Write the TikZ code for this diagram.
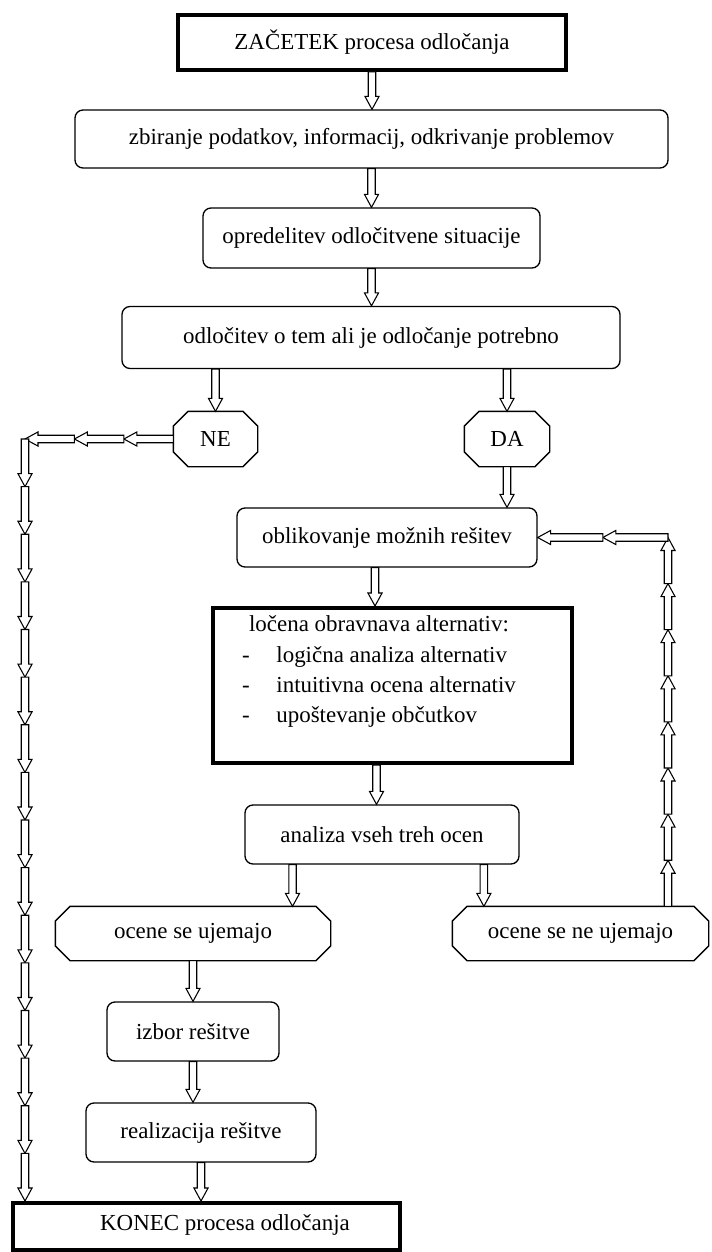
\documentclass[tikz,border=0pt]{standalone}
\usepackage{fontspec}
\setmainfont{Liberation Serif}
\usetikzlibrary{positioning, calc}

% hollow block arrow from #1 to #2
\newcommand{\hollowarrow}[2]{%
  \path #1 coordinate (ha-a) #2 coordinate (ha-b);
  \path ($(ha-b)!9.75pt!(ha-a)$) coordinate (ha-c);
  \draw[harrow] ($(ha-a)!2.8pt!90:(ha-b)$) -- ($(ha-c)!2.8pt!90:(ha-b)$) -- ($(ha-c)!5.3pt!90:(ha-b)$)
      -- (ha-b) -- ($(ha-c)!5.3pt!-90:(ha-b)$) -- ($(ha-c)!2.8pt!-90:(ha-b)$) -- ($(ha-a)!2.8pt!-90:(ha-b)$) -- cycle;
}
% octagon round a choice node
\newcommand{\octagon}[1]{%
  \draw[line width=1pt] ($(#1.north west)+(11pt,0pt)$) -- ($(#1.north east)+(-11pt,0pt)$) -- ($(#1.north east)+(0pt,-11pt)$)
      -- ($(#1.south east)+(0pt,11pt)$) -- ($(#1.south east)+(-11pt,0pt)$) -- ($(#1.south west)+(11pt,0pt)$)
      -- ($(#1.south west)+(0pt,11pt)$) -- ($(#1.north west)+(0pt,-11pt)$) -- cycle;
}

\begin{document}
\begin{tikzpicture}[x=0.75pt, y=-0.75pt, font=\fontsize{17.2}{22.5}\selectfont,
  flowbox/.style={draw, line width=1pt, rounded corners=6pt, inner sep=0pt},
  endbox/.style={draw, line width=3pt, inner sep=0pt},
  choice/.style={inner sep=0pt, outer sep=0.5pt},
  harrow/.style={draw, fill=white, line width=0.8pt, line join=miter}]
\useasboundingbox (0,0) rectangle (712,1252);

\draw (372,42.5)   node[endbox, minimum width=291pt, minimum height=41pt](zacetek){ZAČETEK procesa odločanja};
\draw (371.5,139)  node[flowbox, minimum width=444.75pt, minimum height=43.5pt](zbiranje){zbiranje podatkov, informacij, odkrivanje problemov};
\draw (371.5,238)  node[flowbox, minimum width=252.75pt, minimum height=45pt](opredelitev){opredelitev odločitvene situacije};
\draw (371,337.5)  node[flowbox, minimum width=373.5pt, minimum height=46.5pt](odlocitev){odločitev o tem ali je odločanje potrebno};
\draw (215.5,439)  node[choice, minimum width=62.25pt, minimum height=40.5pt](ne){NE}
      (507,439)    node[choice, minimum width=63pt, minimum height=40.5pt](da){DA};
\octagon{ne}
\octagon{da}
\draw (387,537.5)  node[flowbox, minimum width=225pt, minimum height=44.25pt](oblikovanje){oblikovanje možnih rešitev};
\draw (392.5,685.5) node[endbox, minimum width=269.25pt, minimum height=116.25pt](locena){};
\draw (379,671)    node(locenatxt){\begin{tabular}{@{}l@{\hspace{20pt}}l@{}}
    \multicolumn{2}{@{}c@{}}{ločena obravnava alternativ:}\\[1pt]
    - & logična analiza alternativ\\
    - & intuitivna ocena alternativ\\
    - & upoštevanje občutkov\end{tabular}};
\draw (382,834.5)  node[flowbox, minimum width=205.5pt, minimum height=44.25pt](analiza){analiza vseh treh ocen};
\draw (193,933.5)  node[choice, minimum width=205.5pt, minimum height=39.75pt](ujemajo){ocene se ujemajo}
      (580.5,933.5) node[choice, minimum width=191.25pt, minimum height=39.75pt](neujemajo){ocene se ne ujemajo};
\octagon{ujemajo}
\octagon{neujemajo}
\draw (193,1031.5) node[flowbox, minimum width=129pt, minimum height=44.25pt](izbor){izbor rešitve};
\draw (201,1132.5) node[flowbox, minimum width=172.5pt, minimum height=44.25pt](realizacija){realizacija rešitve};
\draw (206,1226.5) node[endbox, minimum width=290.25pt, minimum height=35.25pt](konec){};
\draw (225,1225)   node(konectxt){KONEC procesa odločanja};

% main flow
\hollowarrow{(zacetek.south)}{(zacetek.south |- zbiranje.north)}
\hollowarrow{(zbiranje.south)}{(zbiranje.south |- opredelitev.north)}
\hollowarrow{(opredelitev.south)}{(opredelitev.south |- odlocitev.north)}
\hollowarrow{(ne |- odlocitev.south)}{(ne.north)}
\hollowarrow{(da |- odlocitev.south)}{(da.north)}
\hollowarrow{(da.south)}{(da.south |- oblikovanje.north)}
\coordinate (ob) at ($(oblikovanje.south)+(-12,0)$);
\coordinate (lo) at ($(locena.south)+(-16,0)$);
\hollowarrow{(ob)}{(ob |- locena.north)}
\hollowarrow{(lo)}{(lo |- analiza.north)}
\coordinate (al) at ($(analiza.south west)!0.175!(analiza.south east)$);
\coordinate (ar) at ($(analiza.south west)!0.87!(analiza.south east)$);
\hollowarrow{(al)}{(al |- ujemajo.north)}
\hollowarrow{(ar)}{(ar |- neujemajo.north)}
\hollowarrow{(ujemajo.south)}{(izbor.north)}
\hollowarrow{(izbor.south)}{(izbor.south |- realizacija.north)}
\hollowarrow{(realizacija.south)}{(realizacija.south |- konec.north)}

% NE: straight to the end
\coordinate (lcorner) at (25,439);
\foreach \i in {0,...,3} \coordinate (nh\i) at ($(ne.west)!\i/3!(lcorner)$);
\foreach \i [evaluate=\i as \j using int(\i+1)] in {0,1,2} \hollowarrow{(nh\i)}{(nh\j)};
\foreach \i in {0,...,16} \coordinate (nv\i) at ($(lcorner)!\i/16!(lcorner |- konec.north)$);
\foreach \i [evaluate=\i as \j using int(\i+1)] in {0,...,15} \hollowarrow{(nv\i)}{(nv\j)};

% back to oblikovanje
\coordinate (rcorner) at (668,537.5);
\foreach \i in {0,...,8} \coordinate (rv\i) at ($(rcorner |- neujemajo.north)!\i/8!(rcorner)$);
\foreach \i [evaluate=\i as \j using int(\i+1)] in {0,...,7} \hollowarrow{(rv\i)}{(rv\j)};
\foreach \i in {0,1,2} \coordinate (rh\i) at ($(rcorner)!\i/2!(oblikovanje.east)$);
\hollowarrow{(rh0)}{(rh1)}
\hollowarrow{(rh1)}{(rh2)}
\end{tikzpicture}
\end{document}
